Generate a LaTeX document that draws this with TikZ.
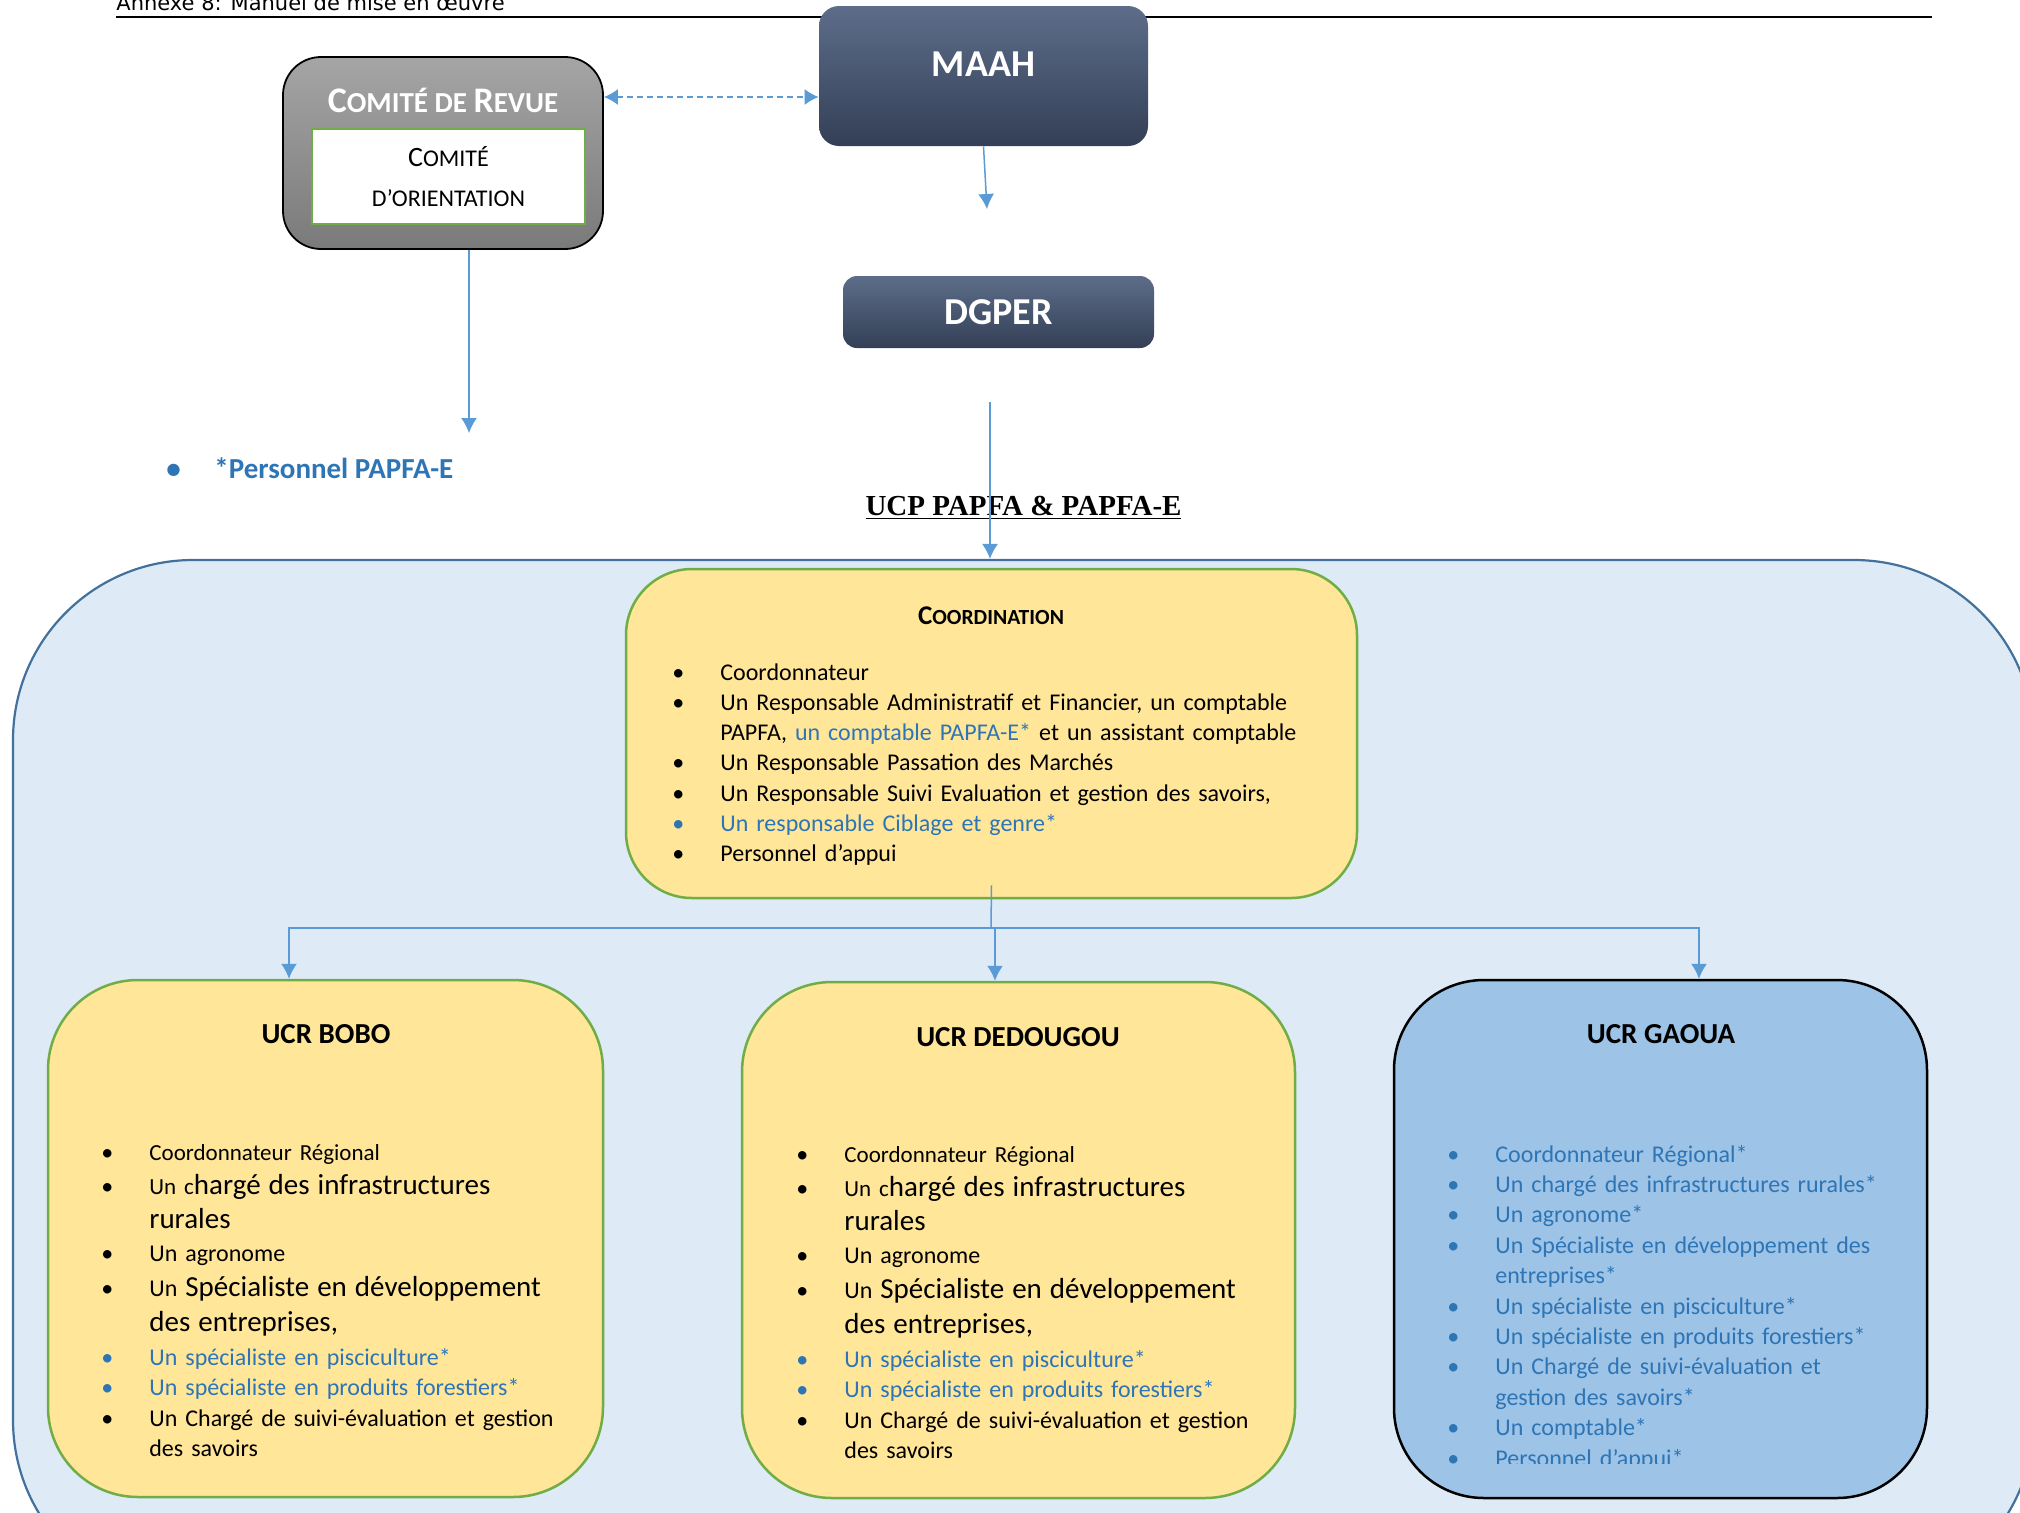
\documentclass[tikz,border=0pt]{standalone}
\usepackage{fontspec}
\setmainfont{Carlito}
\newfontfamily\entetefont{DejaVu Sans}
\newfontfamily\titrefont{Liberation Serif}
\usetikzlibrary{arrows.meta, positioning}

\definecolor{bleufleche}{HTML}{5B9BD5}
\definecolor{bleutexte}{HTML}{2E75B6}
\definecolor{jaune}{HTML}{FFE699}
\definecolor{vert}{HTML}{70AD47}
\definecolor{fonducp}{HTML}{DEEAF6}
\definecolor{borducp}{HTML}{41719C}
\definecolor{bleugaoua}{HTML}{9DC3E6}
\definecolor{ardoisehaut}{HTML}{5D6D89}
\definecolor{ardoisebas}{HTML}{333F56}
\definecolor{grishaut}{HTML}{A5A5A5}
\definecolor{grisbas}{HTML}{7A7A7A}

% petites capitales a la main
\newcommand\pcap[2]{{\fontsize{#1}{#1}\selectfont #2}}
\newcommand\tnorm{\fontsize{12}{15}\selectfont}
\newcommand\tpetit{\fontsize{11.5}{14}\selectfont}
\newcommand\tgrand{\fontsize{14.5}{17.5}\selectfont}
% une ligne a puce : [couleur]{interligne}{texte}
\newlength\pucesep
\setlength\pucesep{24pt}
\newcommand\puce[3][black]{\hangindent=\pucesep\hangafter=1\noindent\tnorm
  \hbox to\pucesep{\textcolor{#1}{\textbullet}\hfil}\color{#1}#3\setlength\baselineskip{#2}\par}

\begin{document}
\begin{tikzpicture} [x = 0.5pt, y = -0.5pt,
lien/.style = {draw = bleufleche, line width = 0.75pt},
fleche/.style = {lien, -{Latex[length = 7.5pt, width = 8pt]}},
ardoise/.style = {rectangle, rounded corners = 10pt, top color = ardoisehaut, bottom color = ardoisebas,
  text = white, font = \bfseries\fontsize{19}{21}\selectfont, inner sep = 0pt},
ucr/.style = {rectangle, rounded corners = 45pt, draw = vert, line width = 1.25pt, fill = jaune, inner sep = 0pt},
titreucr/.style = {font = \bfseries\fontsize{14.5}{17}\selectfont, inner sep = 0pt},
liste/.style = {anchor = base west, inner sep = 0pt, align = left, font = \tnorm}]

\useasboundingbox (0,0) rectangle (2020,1512);
\clip (0,0) rectangle (2020,1512);

% en-tete
\draw [line width = 1pt] (116,17) -- (1932,17);
\node (entete) [anchor = base west, inner sep = 0pt, font = \entetefont\fontsize{10.5}{12}\selectfont] at (116,10) {Annexe 8: Manuel de mise en œuvre};

% tutelle
\node (maah) [ardoise, minimum width = 164.5pt, minimum height = 70pt, text depth = 12pt] at (983.5,76) {MAAH};
\node (dgper) [ardoise, rounded corners = 7pt, minimum width = 155.5pt, minimum height = 36pt] at (998.5,312) {DGPER};

\node (comite) [rectangle, rounded corners = 19pt, draw = black, line width = 0.9pt, top color = grishaut, bottom color = grisbas,
  minimum width = 160pt, minimum height = 96pt] at (443,153) {};
\node (comitetitre) [text = white, font = \bfseries\fontsize{18}{20}\selectfont, inner sep = 0pt] at (443,100) {C\pcap{14.5}{OMITÉ DE }R\pcap{14.5}{EVUE}};
\node (orientation) [rectangle, draw = vert, line width = 1.25pt, fill = white, minimum width = 136.5pt, minimum height = 47.5pt,
  align = center, font = \fontsize{14}{20}\selectfont] at (448.5,176.5) {C\pcap{12}{OMITÉ}\\ \pcap{12}{D’ORIENTATION}};

\coordinate (revuelvl) at (0,97);
\coordinate (maahfin) at (987,209);
\coordinate (persofin) at (469,433);
\coordinate (dgperdebut) at (990,402);

\draw [lien, dash pattern = on 3pt off 2pt, {Latex[length = 7pt, width = 8pt]}-{Latex[length = 7pt, width = 8pt]}]
  (comite.east |- revuelvl) -- (maah.west |- revuelvl);
\draw [fleche] (maah.south) -- (maahfin);
\draw [fleche] (comite.south -| persofin) -- (persofin);

\node (perso) [anchor = west, inner sep = 0pt, text = bleutexte, font = \bfseries\fontsize{14.5}{17}\selectfont] at (166,468)
  {\hbox to 24pt{\textbullet\hfil}*Personnel PAPFA-E};

% unite de coordination
\node (ucp) [rectangle, rounded corners = 90pt, draw = borducp, line width = 1.1pt, fill = fonducp,
  minimum width = 1010.5pt, minimum height = 520pt] at (1023.5,1080) {};
\node (ucptitre) [anchor = base, inner sep = 0pt, font = \titrefont\bfseries\fontsize{14.5}{17}\selectfont] at (1023.5,515)
  {\underline{UCP PAPFA \& PAPFA-E}};
\draw [fleche] (dgperdebut) -- (ucp.north -| dgperdebut);

\node (coord) [ucr, rounded corners = 33pt, minimum width = 365.5pt, minimum height = 164.5pt] at (991.5,733.5) {};
\node (coordtitre) [font = \bfseries\fontsize{13.5}{16}\selectfont, inner sep = 0pt] at (991,616) {C\pcap{10.8}{OORDINATION}};
\node (coordliste) [liste, text width = 330pt] at (672,680) {%
\puce{15.15pt}{Coordonnateur}
\puce{15.15pt}{Un Responsable Administratif et Financier, un comptable\newline PAPFA, \textcolor{bleutexte}{un comptable PAPFA-E*} et un assistant comptable}
\puce{15.15pt}{Un Responsable Passation des Marchés}
\puce{15.15pt}{Un Responsable Suivi Evaluation et gestion des savoirs,}
\puce[bleutexte]{15.15pt}{Un responsable Ciblage et genre*}
\puce{15.15pt}{Personnel d’appui}};

% unites regionales
\node (bobo) [ucr, minimum width = 277.5pt, minimum height = 258.5pt] at (325.5,1238.5) {};
\node (bobotitre) [titreucr] at (326,1034) {UCR BOBO};
\node (boboliste) [liste, text width = 260pt] at (101,1160) {%
\puce{15pt}{\tpetit Coordonnateur Régional}
\puce{17pt}{{\tpetit Un c}\tgrand hargé des infrastructures\newline rurales}
\puce{16.5pt}{Un agronome}
\puce{17.5pt}{Un \tgrand Spécialiste en développement\newline des entreprises,}
\puce[bleutexte]{17pt}{Un spécialiste en pisciculture*}
\puce[bleutexte]{15.25pt}{Un spécialiste en produits forestiers*}
\puce{15.25pt}{Un Chargé de suivi-évaluation et gestion\newline des savoirs}};

\node (dedougou) [ucr, minimum width = 276.5pt, minimum height = 258pt] at (1018.5,1240) {};
\node (dedougoutitre) [titreucr] at (1018,1037) {UCR DEDOUGOU};
\node (dedougouliste) [liste, text width = 260pt] at (796,1162) {%
\puce{15pt}{\tpetit Coordonnateur Régional}
\puce{17pt}{{\tpetit Un c}\tgrand hargé des infrastructures\newline rurales}
\puce{16.5pt}{Un agronome}
\puce{17.5pt}{Un \tgrand Spécialiste en développement\newline des entreprises,}
\puce[bleutexte]{17pt}{Un spécialiste en pisciculture*}
\puce[bleutexte]{15.25pt}{Un spécialiste en produits forestiers*}
\puce{15.25pt}{Un Chargé de suivi-évaluation et gestion\newline des savoirs}};

\node (gaoua) [ucr, draw = black, fill = bleugaoua, minimum width = 266.5pt, minimum height = 259pt] at (1660.5,1239) {};
\node (gaouatitre) [titreucr] at (1661,1034) {UCR GAOUA};
\begin{scope}
\clip (1380,1100) rectangle (1940,1463);
\node (gaoualiste) [liste, text width = 240pt] at (1447,1162) {%
\puce[bleutexte]{15.2pt}{Coordonnateur Régional*}
\puce[bleutexte]{15.2pt}{Un chargé des infrastructures rurales*}
\puce[bleutexte]{15.2pt}{Un agronome*}
\puce[bleutexte]{15.2pt}{Un Spécialiste en développement des\newline entreprises*}
\puce[bleutexte]{15.2pt}{Un spécialiste en pisciculture*}
\puce[bleutexte]{15.2pt}{Un spécialiste en produits forestiers*}
\puce[bleutexte]{15.2pt}{Un Chargé de suivi-évaluation et\newline gestion des savoirs*}
\puce[bleutexte]{15.2pt}{Un comptable*}
\puce[bleutexte]{15.2pt}{Personnel d’appui*}};
\end{scope}

% liaisons
\coordinate (bus) at (991,928);
\draw [lien] ([yshift = 7pt]coord.south) -- (bus);
\draw [fleche] (bus) -| ([xshift = -18.25pt]bobo.north);
\draw [fleche] (bus) -| ([xshift = 19.25pt]gaoua.north);
\draw [fleche] ([xshift = -11.75pt, yshift = 26.5pt]dedougou.north) -- ([xshift = -11.75pt]dedougou.north);
\end{tikzpicture}
\end{document}
